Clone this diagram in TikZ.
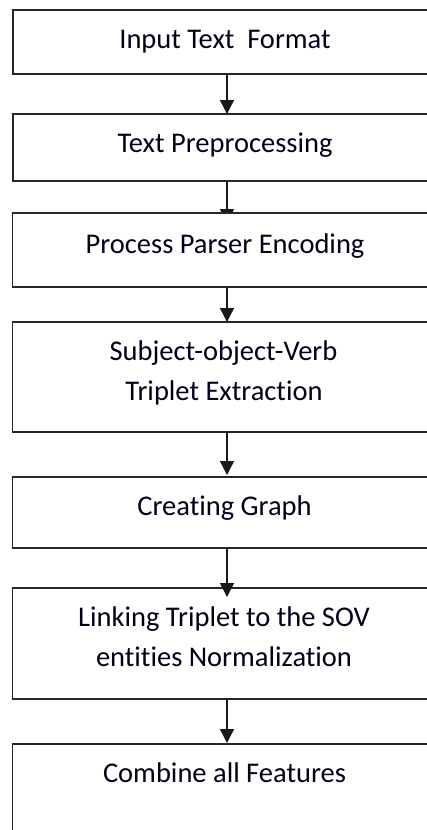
\documentclass[tikz,border=0pt]{standalone}
\usepackage{fontspec}
\setmainfont[Ligatures=NoCommon]{Carlito}
\usetikzlibrary{arrows.meta}
\pgfdeclarelayer{background}
\pgfsetlayers{background,main}
\tikzset{
  stepbox/.style={draw=black!85, line width=1.3pt, fill=white, rectangle,
    inner sep=0pt, outer sep=0pt, minimum width=428pt},
  steptext/.style={anchor=base, inner sep=0pt, font=\fontsize{28.5}{40}\selectfont,
    text=black!90!blue},
  flow/.style={draw=black!90, line width=1.3pt,
    -{Triangle[length=14pt,width=14pt]}},
}
\begin{document}
\begin{tikzpicture}[x=1pt,y=-1pt]
  \useasboundingbox (0,0) rectangle (427,830);
  \clip (0,0) rectangle (427,830);

  % process boxes
  \node[stepbox, minimum height=64pt]  (b1) at (227,42)    {};
  \node[stepbox, minimum height=67pt]  (b2) at (227,147.5) {};
  \node[stepbox, minimum height=74pt]  (b3) at (226.5,250) {};
  \node[stepbox, minimum height=110pt] (b4) at (226.5,377) {};
  \node[stepbox, minimum height=71pt]  (b5) at (226.5,512.5) {};
  \node[stepbox, minimum height=111pt] (b6) at (226.5,643.5) {};
  \node[stepbox, minimum height=110pt] (b7) at (226.5,799) {};

  % labels
  \node[steptext] (t1) at (225,48)  {Input Text\hspace{0.45em}Format};
  \node[steptext] (t2) at (225,152) {Text Preprocessing};
  \node[steptext] (t3) at (225,253) {Process Parser Encoding};
  \node[steptext] (t4a) at (223.5,360) {Subject-object-Verb};
  \node[steptext] (t4b) at (224,400) {Triplet Extraction};
  \node[steptext] (t5) at (224.5,515) {Creating Graph};
  \node[steptext] (t6a) at (224,626) {Linking Triplet to the SOV};
  \node[steptext] (t6b) at (224,666) {entities Normalization};
  \node[steptext] (t7) at (224.5,782) {Combine all Features};

  % connectors; the one into the parser box runs beneath it
  \begin{pgfonlayer}{background}
    \fill[white] (0,0) rectangle (427,830);
    \draw[flow, shorten >=-10pt] (b2.south -| 227,0) -- (b3.north -| 227,0);
  \end{pgfonlayer}
  \draw[flow] (b1.south -| 227,0) -- (b2.north -| 227,0);
  \draw[flow] (b3.south -| 227,0) -- (b4.north -| 227,0);
  \draw[flow, shorten >=2pt] (b4.south -| 227,0) -- (b5.north -| 227,0);
  \draw[flow, shorten >=-9pt] (b5.south -| 227,0) -- (b6.north -| 227,0);
  \draw[flow, shorten >=1pt] (b6.south -| 227,0) -- (b7.north -| 227,0);
\end{tikzpicture}
\end{document}
